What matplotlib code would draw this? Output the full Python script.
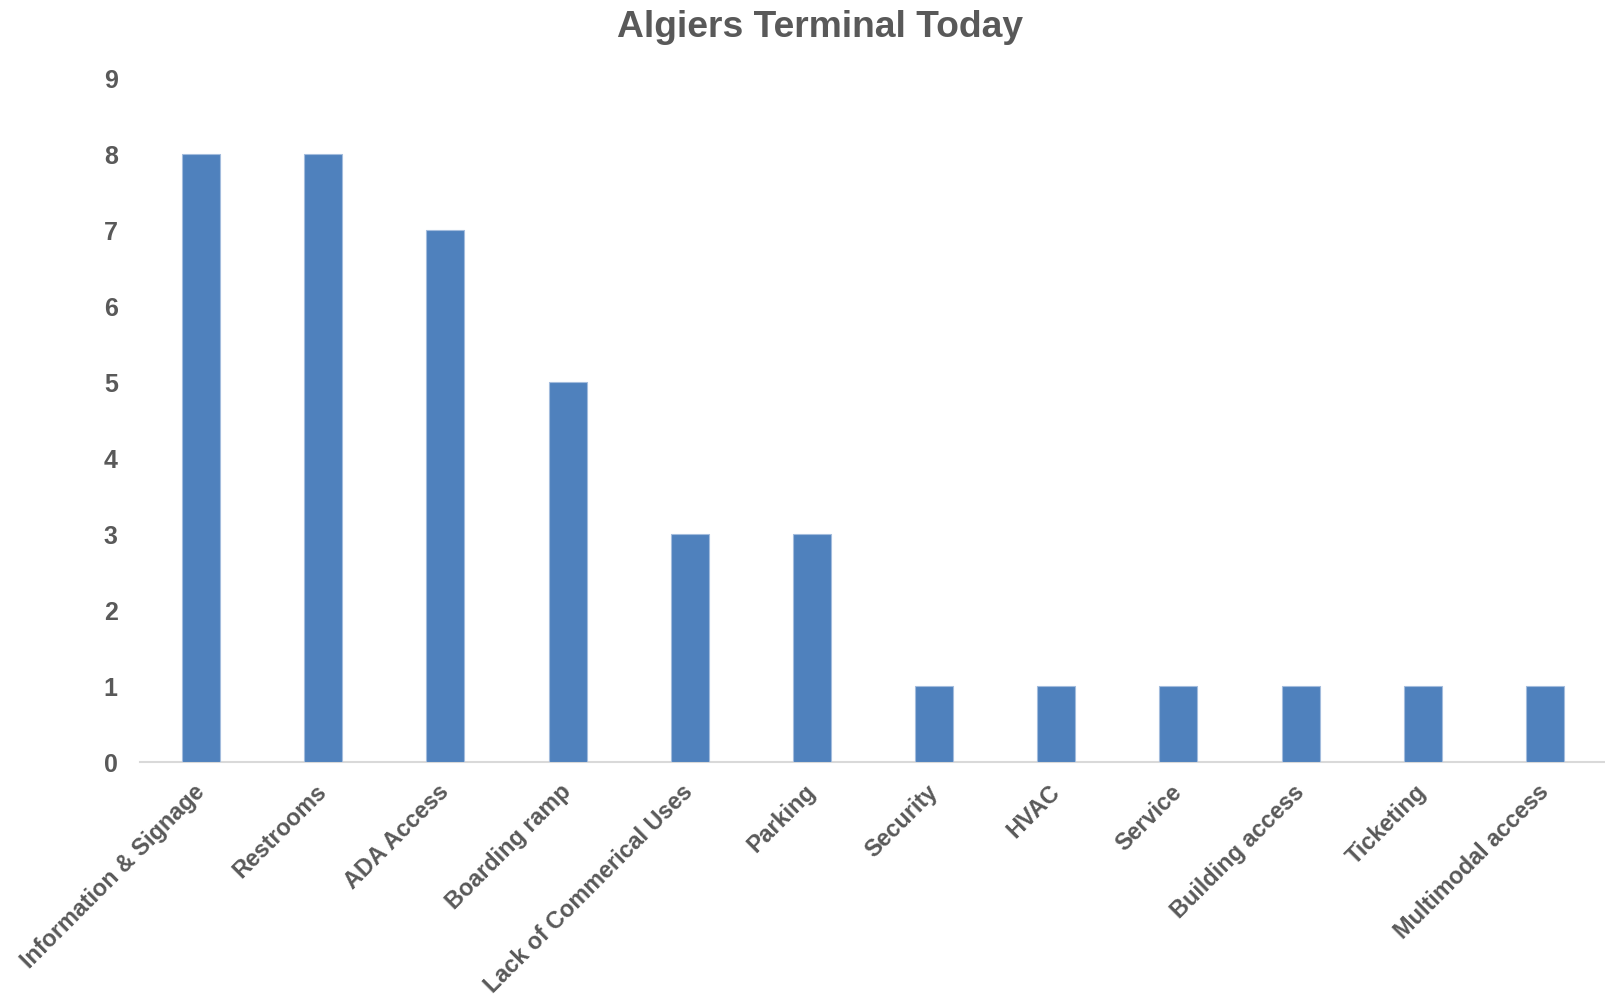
import matplotlib
matplotlib.use("Agg")
from matplotlib import pyplot as plt
import numpy as np

# data
categories = ["Information & Signage", "Restrooms", "ADA Access", "Boarding ramp",
              "Lack of Commerical Uses", "Parking", "Security", "HVAC", "Service",
              "Building access", "Ticketing", "Multimodal access"]
counts = [8, 8, 7, 5, 3, 3, 1, 1, 1, 1, 1, 1]
y_ticks = list(range(0, 10))

plt.rcParams['font.family'] = ['Liberation Sans', 'DejaVu Sans']
plt.rcParams['font.weight'] = 'bold'
text_color = '#595959'

fig = plt.figure(figsize=(16.06, 10), dpi=100)
ax = fig.add_axes([140 / 1606, 1 - 762 / 1000, 1 - 140 / 1606, (762 - 78) / 1000])

x = np.arange(len(categories))
ax.bar(x, counts, width=0.31, color='#4F81BD', edgecolor='#A3BCDD', linewidth=0.8, zorder=3)

ax.set_xlim(-0.5, len(categories) - 0.5)
ax.set_ylim(0, 9)
ax.set_yticks(y_ticks)
ax.set_yticklabels([str(v) for v in y_ticks], fontsize=18, fontweight='bold', color=text_color)
ax.tick_params(axis='y', length=0, pad=16)

ax.set_xticks(x)
ax.set_xticklabels(categories, fontsize=16.8, fontweight='bold', color=text_color,
                   rotation=45, ha='right', va='center', rotation_mode='anchor')
ax.tick_params(axis='x', length=0, pad=19)

for side in ['top', 'right', 'left']:
    ax.spines[side].set_visible(False)
ax.spines['bottom'].set_color('#D9D9D9')
ax.spines['bottom'].set_linewidth(1.5)

fig.text(820 / 1606, 1 - 37 / 1000, "Algiers Terminal Today", fontsize=26.8, fontweight='bold',
         color=text_color, ha='center', va='baseline')

fig.savefig('out.png', dpi=100)
